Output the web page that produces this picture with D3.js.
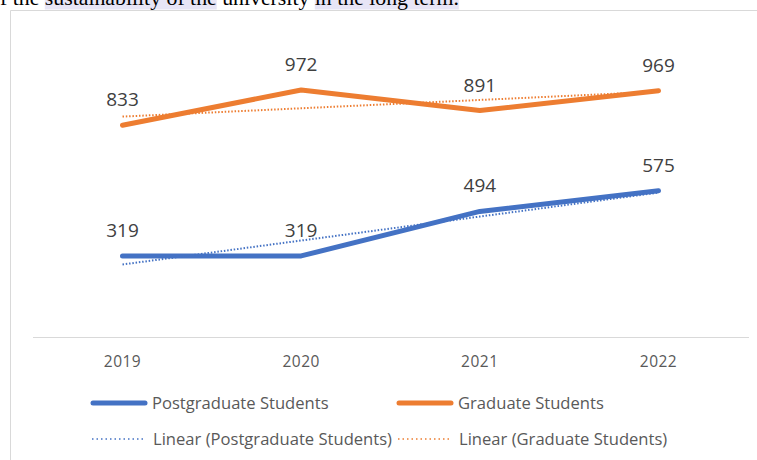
<!DOCTYPE html>
<html>
<head>
<meta charset="utf-8">
<script src="https://cdn.jsdelivr.net/npm/d3@7"></script>
<style>
  body { margin: 0; background: #fff; }
  svg { display: block; }
</style>
</head>
<body>
<svg width="757" height="460"></svg>
<script>
var years = ["2019", "2020", "2021", "2022"];
var postgrad = [319, 319, 494, 575];
var graduate = [833, 972, 891, 969];

var series = [
  { name: "Postgraduate Students", values: postgrad, color: "#4472c4" },
  { name: "Graduate Students", values: graduate, color: "#ed7d31" }
];

var svg = d3.select("svg"),
    width = +svg.attr("width"),
    height = +svg.attr("height");

var font = "'Open Sans', sans-serif";

// piece of the document text above the chart
var para = svg.append("text")
    .attr("x", 0)
    .attr("y", 5)
    .style("font-family", "'Liberation Serif', serif")
    .style("font-size", "21.8px")
    .style("fill", "#000");
var parts = [
  { t: "f the ", hl: false },
  { t: "sustainability of the", hl: true },
  { t: " university ", hl: false },
  { t: "in the long term.", hl: true }
];
para.text(parts.map(function(p) { return p.t; }).join(""));
var node = para.node(), pos = 0;
parts.forEach(function(p) {
  if (p.hl) {
    var x0 = node.getStartPositionOfChar(pos).x;
    var w = node.getSubStringLength(pos, p.t.length);
    svg.insert("rect", "text")
        .attr("x", x0).attr("y", -20)
        .attr("width", w).attr("height", 29.5)
        .attr("fill", "#e7e5f6");
  }
  pos += p.t.length;
});

// chart frame
svg.append("path")
    .attr("d", "M10.5,460V10.5H757")
    .attr("fill", "none")
    .attr("stroke", "#d9d9d9");

var x = d3.scalePoint().domain(years).range([122.5, 658.5]);
var y = d3.scaleLinear().domain([0, 1200]).range([337, 32]);

// category axis
svg.append("line")
    .attr("x1", 33).attr("x2", 749)
    .attr("y1", y(0) + 0.5).attr("y2", y(0) + 0.5)
    .attr("stroke", "#d9d9d9");

svg.selectAll(".tick-label").data(years)
  .enter().append("text")
    .attr("class", "tick-label")
    .attr("x", function(d) { return x(d); })
    .attr("y", 367)
    .text(function(d) { return d; })
    .style("text-anchor", "middle")
    .style("fill", "#595959")
    .style("font-family", font)
    .style("font-size", "15.5px")
    .style("letter-spacing", "0.5px");

var line = d3.line()
    .x(function(d, i) { return x(years[i]); })
    .y(function(d) { return y(d); });

// least squares trend for each series
function trend(vals) {
  var n = vals.length, mx = (n - 1) / 2, my = d3.mean(vals);
  var sxy = d3.sum(vals, function(v, i) { return (i - mx) * (v - my); });
  var sxx = d3.sum(vals, function(v, i) { return (i - mx) * (i - mx); });
  var b = sxy / sxx, a = my - b * mx;
  return vals.map(function(v, i) { return a + b * i; });
}

svg.selectAll(".series").data(series)
  .enter().append("path")
    .attr("class", "series")
    .attr("d", function(d) { return line(d.values); })
    .attr("fill", "none")
    .attr("stroke", function(d) { return d.color; })
    .attr("stroke-width", 5)
    .attr("stroke-linecap", "round")
    .attr("stroke-linejoin", "round");

svg.selectAll(".trend").data(series)
  .enter().append("path")
    .attr("class", "trend")
    .attr("d", function(d) { return line(trend(d.values)); })
    .attr("fill", "none")
    .attr("stroke", function(d) { return d.color; })
    .attr("stroke-width", 2)
    .attr("stroke-dasharray", "1.5,1.8");

// data labels
series.forEach(function(s) {
  svg.selectAll(null).data(s.values)
    .enter().append("text")
      .attr("x", function(d, i) { return x(years[i]); })
      .attr("y", function(d) { return y(d) - 19; })
      .text(function(d) { return d; })
      .style("text-anchor", "middle")
      .style("fill", "#404040")
      .style("font-family", font)
      .style("font-size", "19px");
});

// legend
var legend = [
  { label: "Postgraduate Students", color: "#4472c4", dotted: false, x: 91, y: 403 },
  { label: "Graduate Students", color: "#ed7d31", dotted: false, x: 397, y: 403 },
  { label: "Linear (Postgraduate Students)", color: "#4472c4", dotted: true, x: 91, y: 439 },
  { label: "Linear (Graduate Students)", color: "#ed7d31", dotted: true, x: 397, y: 439 }
];

var item = svg.selectAll(".legend").data(legend)
  .enter().append("g")
    .attr("class", "legend")
    .attr("transform", function(d) { return "translate(" + d.x + "," + d.y + ")"; });

item.append("line")
    .attr("x1", function(d) { return d.dotted ? 1 : 2; })
    .attr("x2", function(d) { return d.dotted ? 55 : 54; })
    .attr("stroke", function(d) { return d.color; })
    .attr("stroke-width", function(d) { return d.dotted ? 1.5 : 5; })
    .attr("stroke-linecap", function(d) { return d.dotted ? "butt" : "round"; })
    .attr("stroke-dasharray", function(d) { return d.dotted ? "1.5,3" : null; });

item.append("text")
    .attr("x", function(d) { return d.dotted ? 62 : 61; })
    .attr("y", 6)
    .text(function(d) { return d.label; })
    .style("fill", "#595959")
    .style("font-family", font)
    .style("font-size", "16.6px");
</script>
</body>
</html>
